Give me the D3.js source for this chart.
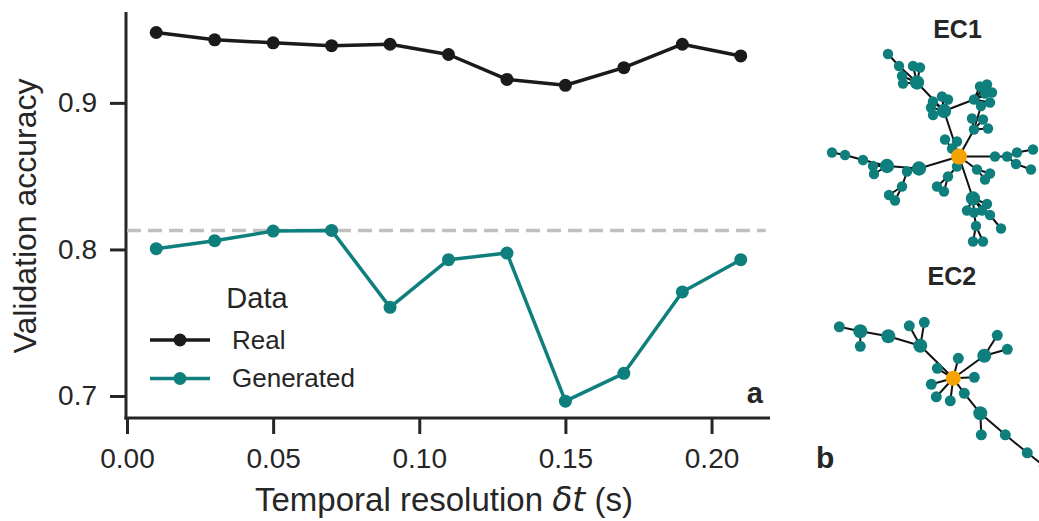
<!DOCTYPE html>
<html>
<head>
<meta charset="utf-8">
<script src="https://cdn.jsdelivr.net/npm/d3@7"></script>
<style>
  body { margin: 0; background: #fff; }
  svg { display: block; font-family: "Liberation Sans", Arial, sans-serif; }
  .tick text { fill: #262626; }
</style>
</head>
<body>
<div id="chart"></div>
<script>
// x positions (temporal resolution, s)
const resolutions = [0.01, 0.03, 0.05, 0.07, 0.09, 0.11, 0.13, 0.15, 0.17, 0.19, 0.21];
// validation accuracy per series
const realAcc = [0.948, 0.943, 0.941, 0.939, 0.940, 0.933, 0.916, 0.912, 0.924, 0.940, 0.932];
const generatedAcc = [0.8005, 0.806, 0.8125, 0.813, 0.7605, 0.793, 0.7975, 0.6965, 0.7155, 0.771, 0.793];
const baseline = 0.813;

const xTicks = [0, 0.05, 0.10, 0.15, 0.20];
const yTicks = [0.7, 0.8, 0.9];

// graph layouts, node = [dx, dy, kind] relative to the hub (kind 0 hub, 1 small, 2 big)
const ec1Nodes = [
  [0, 0, 0], [-15, -45.5, 2], [-26, -55, 1], [-17, -60, 1], [-11, -57, 1], [-28, -49, 1], [-26, -41.5, 1],
  [-42, -74, 2], [-46, -90.5, 1], [-39, -89, 1], [-57, -80.5, 1], [-56, -73, 1], [-60, -90.5, 1], [-71, -102.5, 1],
  [15, -57, 1], [21, -70, 1], [28, -72, 1], [26, -63, 1], [33, -64, 1], [31, -54, 1], [22, -50.5, 1],
  [15, -27, 1], [13, -38, 1], [24, -37, 1], [29, -28, 1],
  [-7, -8, 1], [-14, -17, 1], [-2, -15, 1],
  [36, 0, 1], [48, 0, 1], [58, -4, 1], [74, -7, 1], [57, 7.5, 1], [72, 13, 1],
  [-40, 12, 2], [-72, 9.5, 2], [-96, 3.5, 1], [-114, -1.5, 1], [-127, -4, 1], [-86, 9.5, 1], [-85, 17.5, 1],
  [-52, 15, 1], [-57, 30, 1], [-70, 38.5, 1], [-64, 44, 1],
  [18, 13, 1], [31, 17, 1], [26, 23, 1],
  [-2, 10, 1], [-11, 20, 1], [-22, 30, 1], [-15, 35, 1],
  [14, 42, 2], [8, 54, 1], [15, 56, 1], [23, 54, 1], [28, 47.5, 1], [31, 58.5, 1], [42, 72, 1],
  [17, 69.5, 1], [14, 85, 1], [24, 85, 1]
];
const ec1Links = [
  [0, 1], [1, 2], [1, 3], [1, 4], [1, 5], [1, 6], [1, 7], [7, 8], [7, 9], [7, 10], [7, 11], [7, 12], [12, 13],
  [1, 14], [14, 15], [14, 16], [14, 17], [14, 18], [14, 19], [14, 20],
  [0, 21], [21, 22], [21, 23], [21, 24], [21, 20],
  [0, 25], [25, 26], [25, 27],
  [0, 28], [28, 29], [29, 30], [30, 31], [29, 32], [32, 33],
  [0, 34], [34, 35], [35, 36], [36, 37], [37, 38], [35, 39], [35, 40], [34, 41], [41, 42], [42, 43], [42, 44],
  [0, 45], [45, 46], [45, 47],
  [0, 48], [48, 49], [49, 50], [49, 51],
  [0, 52], [52, 53], [52, 54], [52, 55], [52, 56], [52, 57], [57, 58], [54, 59], [59, 60], [59, 61]
];
const ec2Nodes = [
  [0, 0, 0], [-114, -51.5, 1], [-93, -47, 2], [-93, -32, 1], [-65, -42, 2], [-33, -32.5, 2], [-44, -52.5, 1],
  [-29, -56, 1], [-16, -10, 1], [-22, 6, 1], [-17, 18.5, 1], [-3, 22.5, 1], [5, -20, 1], [21, -1, 1],
  [11, 15, 1], [31, -22.5, 2], [44, -43, 1], [54, -29, 1], [27, 35, 2], [28, 56.5, 1], [52, 56.5, 1],
  [74, 74.5, 1], [91, 88, 1]
];
const ec2Links = [
  [1, 2], [2, 3], [2, 4], [4, 5], [5, 0], [5, 6], [5, 7], [0, 8], [0, 9], [0, 10], [0, 11], [0, 12], [0, 13],
  [0, 14], [0, 15], [15, 16], [15, 17], [14, 18], [18, 19], [18, 20], [20, 21], [21, 22]
];

const W = 1039, H = 521;
const ink = '#262626';
const black = '#1a1a1a';
const teal = '#0e7f7c';
const orange = '#f5a300';

const svg = d3.select('#chart').append('svg')
    .attr('width', W)
    .attr('height', H);

// scales
const xScale = d3.scaleLinear().domain([0, 0.22]).range([127, 770]);
const yScale = d3.scaleLinear().domain([0.685, 0.962]).range([418, 12]);

//************** AXES ******************//
const xAxis = svg.append('g')
    .attr('transform', `translate(0, ${yScale.range()[0]})`)
    .call(d3.axisBottom(xScale).tickValues(xTicks).tickFormat(d3.format('.2f'))
        .tickSize(16).tickPadding(14));
xAxis.select('.domain').remove();
xAxis.selectAll('line').attr('stroke', ink).attr('stroke-width', 3);
xAxis.selectAll('text').style('font-size', '28px');

const yAxis = svg.append('g')
    .attr('transform', `translate(${xScale.range()[0] - 1}, 0)`)
    .call(d3.axisLeft(yScale).tickValues(yTicks).tickFormat(d3.format('.1f'))
        .tickSize(16).tickPadding(13));
yAxis.select('.domain').remove();
yAxis.selectAll('line').attr('stroke', ink).attr('stroke-width', 3);
yAxis.selectAll('text').style('font-size', '28px');

// spines
svg.append('line')
    .attr('x1', xScale.range()[0] - 1).attr('x2', xScale.range()[0] - 1)
    .attr('y1', yScale.range()[1]).attr('y2', yScale.range()[0] + 1.5)
    .attr('stroke', ink).attr('stroke-width', 3);
svg.append('line')
    .attr('x1', xScale.range()[0] - 2.5).attr('x2', xScale.range()[1])
    .attr('y1', yScale.range()[0]).attr('y2', yScale.range()[0])
    .attr('stroke', ink).attr('stroke-width', 3);

// axis titles
svg.append('text')
    .attr('transform', 'translate(36, 216) rotate(-90)')
    .attr('text-anchor', 'middle')
    .style('font-size', '32px')
    .attr('fill', ink)
    .text('Validation accuracy');

const xLabel = svg.append('text')
    .attr('x', 444).attr('y', 511)
    .attr('text-anchor', 'middle')
    .style('font-size', '33px')
    .attr('fill', ink);
xLabel.append('tspan').text('Temporal resolution ');
xLabel.append('tspan').style('font-style', 'italic').style('font-family', '"DejaVu Sans"').text('δt');
xLabel.append('tspan').text(' (s)');

// reference line
svg.append('line')
    .attr('x1', xScale(0)).attr('x2', xScale(0.2185))
    .attr('y1', yScale(baseline)).attr('y2', yScale(baseline))
    .attr('stroke', '#c0c0c0').attr('stroke-width', 3.5)
    .attr('stroke-dasharray', '14,7');

//************* SERIES *************//
const series = [
    {name: 'Real', values: realAcc, color: black},
    {name: 'Generated', values: generatedAcc, color: teal}
];
const line = d3.line()
    .x((d, i) => xScale(resolutions[i]))
    .y(d => yScale(d));

series.forEach(s => {
    svg.append('path')
        .attr('d', line(s.values))
        .attr('fill', 'none')
        .attr('stroke', s.color)
        .attr('stroke-width', 3.5)
        .attr('stroke-linejoin', 'round');
    svg.append('g').selectAll('circle')
        .data(s.values)
        .enter()
        .append('circle')
            .attr('cx', (d, i) => xScale(resolutions[i]))
            .attr('cy', d => yScale(d))
            .attr('r', 6.5)
            .attr('fill', s.color);
});

// legend
const legend = svg.append('g');
legend.append('text')
    .attr('x', 257).attr('y', 308)
    .attr('text-anchor', 'middle')
    .style('font-size', '29px')
    .attr('fill', ink)
    .text('Data');
series.forEach((s, i) => {
    const ly = 340 + i * 38.5;
    legend.append('line')
        .attr('x1', 150).attr('x2', 210)
        .attr('y1', ly).attr('y2', ly)
        .attr('stroke', s.color).attr('stroke-width', 3.5);
    legend.append('circle')
        .attr('cx', 180).attr('cy', ly).attr('r', 6.5)
        .attr('fill', s.color);
    legend.append('text')
        .attr('x', 232).attr('y', ly + 8.5)
        .style('font-size', '26px')
        .attr('fill', ink)
        .text(s.name);
});

// panel labels
svg.append('text')
    .attr('x', 763).attr('y', 403)
    .attr('text-anchor', 'end')
    .style('font-size', '29px').style('font-weight', 'bold')
    .attr('fill', ink)
    .text('a');
svg.append('text')
    .attr('x', 816).attr('y', 468)
    .style('font-size', '30px').style('font-weight', 'bold')
    .attr('fill', ink)
    .text('b');

//************* NETWORKS *************//
let drawNetwork = (nodes, links, hubX, hubY, title, titleY, radii) => {
    const nx = d3.scaleLinear().domain([0, 1]).range([hubX, hubX + 1]);
    const ny = d3.scaleLinear().domain([0, 1]).range([hubY, hubY + 1]);
    const g = svg.append('g');

    g.selectAll('line')
        .data(links)
        .enter()
        .append('line')
            .attr('x1', d => nx(nodes[d[0]][0]))
            .attr('y1', d => ny(nodes[d[0]][1]))
            .attr('x2', d => nx(nodes[d[1]][0]))
            .attr('y2', d => ny(nodes[d[1]][1]))
            .attr('stroke', '#111')
            .attr('stroke-width', 2);

    // draw the hub last so it stays on top
    const order = nodes.map((d, i) => i).sort((a, b) => (nodes[a][2] === 0) - (nodes[b][2] === 0));
    g.selectAll('circle')
        .data(order)
        .enter()
        .append('circle')
            .attr('cx', i => nx(nodes[i][0]))
            .attr('cy', i => ny(nodes[i][1]))
            .attr('r', i => radii[nodes[i][2]])
            .attr('fill', i => nodes[i][2] === 0 ? orange : teal);

    svg.append('text')
        .attr('x', hubX - 1.5).attr('y', titleY)
        .attr('text-anchor', 'middle')
        .style('font-size', '25px').style('font-weight', 'bold')
        .attr('fill', ink)
        .text(title);
}

drawNetwork(ec1Nodes, ec1Links, 959, 156.5, 'EC1', 38, [8, 5.2, 7.2]);
drawNetwork(ec2Nodes, ec2Links, 953.3, 378.3, 'EC2', 285, [7.5, 5.5, 7]);
</script>
</body>
</html>
